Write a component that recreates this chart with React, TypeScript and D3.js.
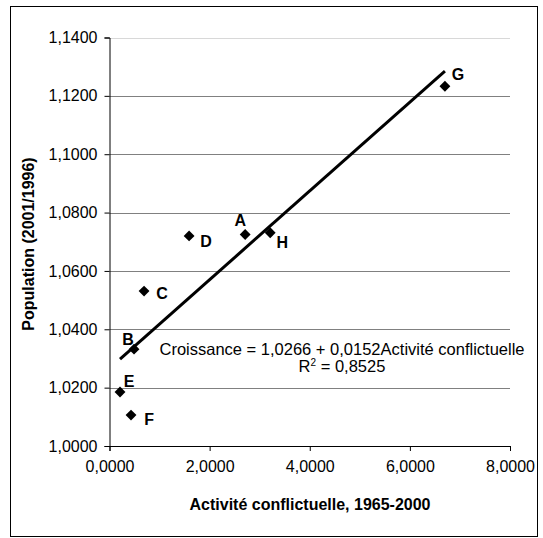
import React, { useEffect, useRef } from 'react';
import * as d3 from 'd3';

// points (country labels), conflict activity vs population ratio
const pointLabels = ['A', 'B', 'C', 'D', 'E', 'F', 'G', 'H'];
const activite = [2.71, 0.49, 0.69, 1.59, 0.21, 0.43, 6.70, 3.21];
const population = [1.0725, 1.0332, 1.0531, 1.0720, 1.0185, 1.0106, 1.1233, 1.0731];

const xTicks = [0, 2, 4, 6, 8];
const yTicks = [1.0, 1.02, 1.04, 1.06, 1.08, 1.10, 1.12, 1.14];

// regression
const intercept = 1.0266;
const slope = 0.0152;
const r2 = 0.8525;

// label offsets from each diamond (px)
const labelOffsets: Record<string, [number, number]> = {
    A: [-5, -8], B: [-6, -4], C: [18, 8], D: [17, 11],
    E: [9, -5], F: [18, 10], G: [13, -6], H: [12, 15],
};

const fmt = (v: number) => d3.format('.4f')(v).replace('.', ',');

const App = () => {
    const svgRef = useRef<SVGSVGElement>(null);

    useEffect(() => {
        const svg = d3.select(svgRef.current);
        svg.selectAll('*').remove();

        const font = 'Liberation Sans, Arial, sans-serif';
        const left = 109.5, right = 510, top = 37.5, bottom = 446;

        const x = d3.scaleLinear().domain([0, 8]).range([left, right]);
        const y = d3.scaleLinear().domain([1.0, 1.14]).range([bottom, top]);

        // outer frame
        svg.append('rect')
            .attr('x', 10.5).attr('y', 6.5)
            .attr('width', 527).attr('height', 530)
            .attr('fill', 'white').attr('stroke', 'black').attr('stroke-width', 1);

        // gridlines
        svg.append('g')
            .selectAll('line')
            .data(yTicks.slice(1))
            .enter().append('line')
            .attr('x1', left).attr('x2', right)
            .attr('y1', d => Math.round(y(d)) + 0.5)
            .attr('y2', d => Math.round(y(d)) + 0.5)
            .attr('stroke', d => d === 1.14 ? '#d8d8d8' : '#808080')
            .attr('stroke-width', 1);

        // y axis
        const yAxis = svg.append('g')
            .attr('transform', `translate(${left},0)`)
            .call(d3.axisLeft(y).tickValues(yTicks).tickFormat(d => fmt(+d)).tickSize(5).tickPadding(7));
        yAxis.select('.domain').attr('stroke', 'black');
        yAxis.selectAll('text').attr('font-family', font).attr('font-size', 16).attr('fill', 'black');

        // x axis
        const xAxis = svg.append('g')
            .attr('transform', `translate(0,${bottom})`)
            .call(d3.axisBottom(x).tickValues(xTicks).tickFormat(d => fmt(+d)).tickSize(5).tickPadding(10));
        xAxis.select('.domain').attr('stroke', 'black');
        xAxis.selectAll('text').attr('font-family', font).attr('font-size', 16).attr('fill', 'black');

        // regression line
        const xMin = d3.min(activite) as number;
        const xMax = d3.max(activite) as number;
        svg.append('line')
            .attr('x1', x(xMin)).attr('y1', y(intercept + slope * xMin))
            .attr('x2', x(xMax)).attr('y2', y(intercept + slope * xMax))
            .attr('stroke', 'black').attr('stroke-width', 3);

        // diamonds
        const pts = pointLabels.map((l, i) => ({ l, cx: x(activite[i]), cy: y(population[i]) }));
        svg.append('g')
            .selectAll('path')
            .data(pts)
            .enter().append('path')
            .attr('d', d3.symbol().type(d3.symbolDiamond2).size(75)() as string)
            .attr('transform', d => `translate(${d.cx},${d.cy})`)
            .attr('fill', 'black');

        svg.append('g')
            .selectAll('text')
            .data(pts)
            .enter().append('text')
            .attr('x', d => d.cx + labelOffsets[d.l][0])
            .attr('y', d => d.cy + labelOffsets[d.l][1])
            .attr('text-anchor', 'middle')
            .attr('font-family', font).attr('font-size', 16).attr('font-weight', 'bold')
            .text(d => d.l);

        // equation
        svg.append('text')
            .attr('x', 342).attr('y', 355)
            .attr('text-anchor', 'middle')
            .attr('font-family', font).attr('font-size', 16.5)
            .text(`Croissance = ${fmt(intercept)} + ${fmt(slope)}Activité conflictuelle`);
        const r2Text = svg.append('text')
            .attr('x', 342).attr('y', 372)
            .attr('text-anchor', 'middle')
            .attr('font-family', font).attr('font-size', 16.5);
        r2Text.append('tspan').text('R');
        r2Text.append('tspan').attr('font-size', 10).attr('dy', -6).text('2');
        r2Text.append('tspan').attr('dy', 6).text(` = ${fmt(r2)}`);

        // axis titles
        svg.append('text')
            .attr('x', 310).attr('y', 510)
            .attr('text-anchor', 'middle')
            .attr('font-family', font).attr('font-size', 16).attr('font-weight', 'bold')
            .text('Activité conflictuelle, 1965-2000');
        svg.append('text')
            .attr('transform', 'translate(34,244) rotate(-90)')
            .attr('text-anchor', 'middle')
            .attr('font-family', font).attr('font-size', 16).attr('font-weight', 'bold')
            .text('Population (2001/1996)');
    }, []);

    return (
        <svg ref={svgRef} width={543} height={538}
            style={{ position: 'absolute', left: 0, top: 0, background: 'white' }} />
    );
};

export default App;
